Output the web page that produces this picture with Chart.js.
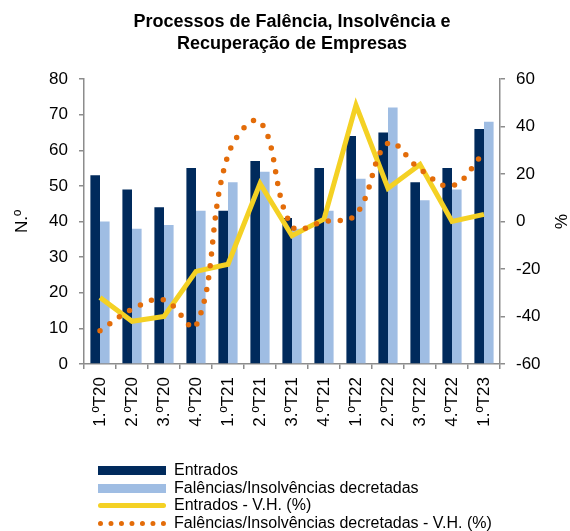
<!DOCTYPE html>
<html>
<head>
<meta charset="utf-8">
<script src="https://cdn.jsdelivr.net/npm/chart.js@4.4.1/dist/chart.umd.min.js"></script>
<style>
  html, body { margin: 0; padding: 0; background: #fff; }
  #wrap { position: relative; width: 570px; height: 531px; }
  #legend {
    position: absolute; left: 98px; top: 461px;
    font: 16px "Liberation Sans", Arial, sans-serif; color: #000;
    line-height: 17.6px;
  }
  #legend .sw { display: inline-block; width: 68px; margin-right: 8px; vertical-align: middle; }
  #legend .dark { height: 9px; background: #002A5C; }
  #legend .light { height: 9px; background: #9FBDE3; }
  #legend .yellow { height: 5px; background: #F4D124; border-radius: 3px; }
  #legend .dots { height: 0; border-top: 5px dotted #E36C09; }
</style>
</head>
<body>
<div id="wrap">
  <canvas id="chart" width="570" height="531"></canvas>
  <div id="legend">
    <div><span class="sw dark"></span>Entrados</div>
    <div><span class="sw light"></span>Falências/Insolvências decretadas</div>
    <div><span class="sw yellow"></span>Entrados - V.H. (%)</div>
    <div><span class="sw dots"></span>Falências/Insolvências decretadas - V.H. (%)</div>
  </div>
</div>
<script>
// quarters
const quarters = ['1.ºT20', '2.ºT20', '3.ºT20', '4.ºT20', '1.ºT21', '2.ºT21', '3.ºT21',
                  '4.ºT21', '1.ºT22', '2.ºT22', '3.ºT22', '4.ºT22', '1.ºT23'];

// number of cases (left axis)
const entrados   = [53, 49, 44, 55, 43, 57, 41, 55, 64, 65, 51, 55, 66];
const decretadas = [40, 38, 39, 43, 51, 54, 38, 43, 52, 72, 46, 49, 68];

// year-on-year change, % (right axis)
const entradosVH   = [-32, -42, -40, -21, -18, 16, -6, 1, 49, 14, 24, 0, 3];
const decretadasVH = [-46, -37, -33, -44, 28, 42, -2, 0, 3, 33, 22, 15, 29];

const titleLines = ['Processos de Falência, Insolvência e', 'Recuperação de Empresas'];

const FONT = '"Liberation Sans", Arial, sans-serif';
const AXIS_GREY = '#8C8C8C';
const TICK_SIZE = 17;

// title centred over the plot area rather than the whole canvas
const plotTitle = {
  id: 'plotTitle',
  afterDraw(chart) {
    const { ctx, chartArea } = chart;
    const cx = (chartArea.left + chartArea.right) / 2;
    ctx.save();
    ctx.font = 'bold 18px ' + FONT;
    ctx.fillStyle = '#000';
    ctx.textAlign = 'center';
    ctx.textBaseline = 'alphabetic';
    titleLines.forEach((t, i) => ctx.fillText(t, cx, 27 + i * 22));
    ctx.restore();
  }
};

const sideAxis = (pos, min, max, step, title, width) => ({
  type: 'linear',
  position: pos,
  min: min,
  max: max,
  grid: { drawOnChartArea: false, color: AXIS_GREY, tickLength: 5, lineWidth: 1.5 },
  border: { color: AXIS_GREY, width: 1.5 },
  ticks: { stepSize: step, padding: 11, color: '#000', font: { family: FONT, size: TICK_SIZE } },
  title: {
    display: true, text: title, color: '#000',
    font: { family: FONT, size: TICK_SIZE },
    padding: { top: pos === 'left' ? 12 : 0, bottom: 0 }
  },
  afterFit(scale) { scale.width = width; }
});

new Chart(document.getElementById('chart'), {
  type: 'bar',
  data: {
    labels: quarters,
    datasets: [
      {
        type: 'line',
        label: 'Falências/Insolvências decretadas - V.H. (%)',
        data: decretadasVH,
        yAxisID: 'y1',
        borderColor: '#E36C09',
        borderWidth: 5.5,
        borderDash: [0, 12],
        borderCapStyle: 'round',
        tension: 0.4,
        pointRadius: 0,
        fill: false,
        order: 0
      },
      {
        type: 'line',
        label: 'Entrados - V.H. (%)',
        data: entradosVH,
        yAxisID: 'y1',
        borderColor: '#F4D124',
        borderWidth: 5,
        borderJoinStyle: 'miter',
        tension: 0,
        pointRadius: 0,
        fill: false,
        order: 1
      },
      {
        label: 'Entrados',
        data: entrados,
        yAxisID: 'y',
        backgroundColor: '#002A5C',
        categoryPercentage: 0.6,
        barPercentage: 1,
        order: 2
      },
      {
        label: 'Falências/Insolvências decretadas',
        data: decretadas,
        yAxisID: 'y',
        backgroundColor: '#9FBDE3',
        categoryPercentage: 0.6,
        barPercentage: 1,
        order: 3
      }
    ]
  },
  options: {
    responsive: false,
    animation: false,
    layout: { padding: { top: 79, bottom: 77, left: 0, right: 0 } },
    plugins: {
      legend: { display: false },
      title: { display: false },
      tooltip: { enabled: false }
    },
    scales: {
      x: {
        offset: true,
        grid: { offset: true, drawOnChartArea: false, color: AXIS_GREY, tickLength: 5, lineWidth: 1.5 },
        border: { color: AXIS_GREY, width: 1.5 },
        ticks: {
          minRotation: 90, maxRotation: 90, padding: 8, autoSkip: false,
          color: '#000', font: { family: FONT, size: TICK_SIZE }
        },
        afterFit(scale) { scale.height = 90; }
      },
      y: sideAxis('left', 0, 80, 10, 'N.º', 84),
      y1: sideAxis('right', -60, 60, 20, '%', 70)
    }
  },
  plugins: [plotTitle]
});
</script>
</body>
</html>
